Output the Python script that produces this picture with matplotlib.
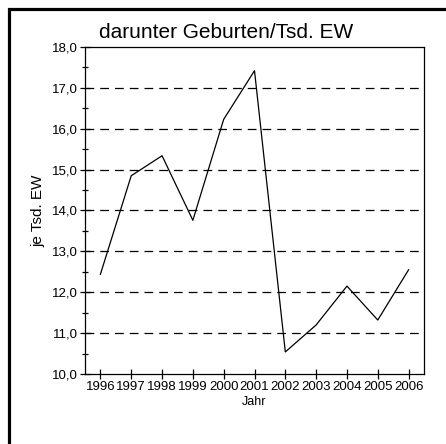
import matplotlib
matplotlib.use("Agg")
import matplotlib.pyplot as plt
from matplotlib.patches import Rectangle
from matplotlib.ticker import MultipleLocator, FuncFormatter

years = [1996, 1997, 1998, 1999, 2000, 2001, 2002, 2003, 2004, 2005, 2006]
births = [12.44, 14.85, 15.34, 13.76, 16.23, 17.42, 10.54, 11.20, 12.15, 11.32, 12.55]

plain = ["Liberation Sans", "DejaVu Sans"]

fig = plt.figure(figsize=(4.46, 4.44), dpi=100)
ax = fig.add_axes([85 / 446, 1 - 374 / 444, (424 - 85) / 446, (374 - 47) / 444])

ax.plot(years, births, color="black", linewidth=0.9)

ax.set_xlim(1995.5, 2006.5)
ax.set_ylim(10, 18)
ax.set_xticks(years)
ax.yaxis.set_major_locator(MultipleLocator(1))
ax.yaxis.set_minor_locator(MultipleLocator(0.5))
ax.yaxis.set_major_formatter(FuncFormatter(lambda v, p: f"{v:.1f}".replace(".", ",")))

for y in range(11, 18):
    ax.axhline(y, color="black", linewidth=0.9, linestyle=(0, (7, 4.8)), zorder=1)

ax.tick_params(axis="both", which="major", direction="inout", length=7, width=0.9,
               pad=1.5, labelsize=9.5)
ax.tick_params(axis="y", which="minor", direction="inout", length=4, width=0.9)
for lbl in ax.get_xticklabels() + ax.get_yticklabels():
    lbl.set_family(plain)

for s in ax.spines.values():
    s.set_linewidth(0.9)

fig.text(226 / 446, 1 - 33 / 444, "darunter Geburten/Tsd. EW", family=plain,
         fontsize=15, ha="center", va="center")
ax.set_xlabel("Jahr", family=plain, fontsize=9, labelpad=2)
ax.set_ylabel("je Tsd. EW", family=plain, fontsize=11, labelpad=5)

# outer frame, cut off at right and bottom
fig.add_artist(Rectangle((8.5 / 446, -0.5), 2, 1.5 - 8.5 / 444, fill=False,
                         edgecolor="black", linewidth=2.3,
                         transform=fig.transFigure, clip_on=False))

fig.savefig("out.png", dpi=100)
